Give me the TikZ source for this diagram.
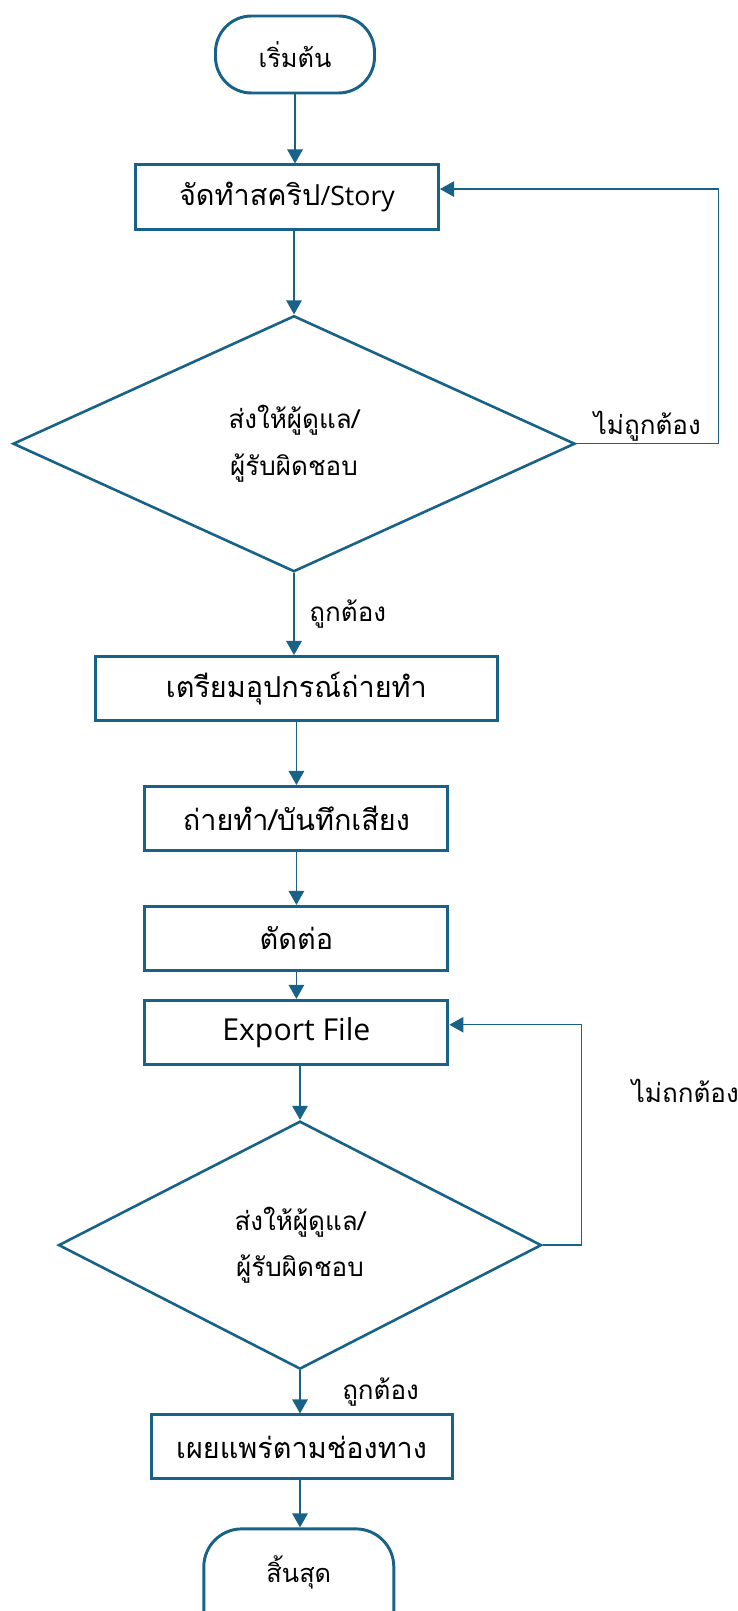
\documentclass[tikz,border=0pt]{standalone}
\usepackage{fontspec}
\newfontfamily\thaifont[Script=Thai]{Loma}
\newfontfamily\latinfont{Open Sans}
\usetikzlibrary{shapes.geometric, arrows.meta, positioning, calc}
\definecolor{flowblue}{RGB}{24,98,136}

\begin{document}
\begin{tikzpicture}[
        node distance=1.5cm,
        box/.style={rectangle, draw=flowblue, line width=2.1pt, minimum width=7.575cm, minimum height=1.6cm, align=center, font=\thaifont\fontsize{20.5}{24}\selectfont},
        term/.style={rectangle, draw=flowblue, line width=2.1pt, rounded corners=0.9cm, minimum width=3.975cm, minimum height=1.925cm, font=\thaifont\fontsize{18}{22}\selectfont},
        decision/.style={diamond, draw=flowblue, line width=1.85pt, align=center, inner sep=0pt, font=\thaifont\fontsize{18.5}{33}\selectfont},
        flow/.style={-{Triangle[width=11pt,length=10pt]}, line width=1.2pt, flowblue},
        back/.style={-{Triangle[width=11pt,length=10pt]}, line width=0.95pt, flowblue},
        note/.style={inner sep=1pt, text=black, font=\thaifont\fontsize{18.5}{22}\selectfont}
    ]
        \useasboundingbox (0,0) rectangle (18.45,-40.275);

        \node[term] (start) at (7.375,-1.3625) {เริ่มต้น};
        \node[box, minimum height=1.625cm, below=1.725cm of start, xshift=-0.2cm] (script) {จัดทำสคริป{\latinfont\fontsize{19}{22}\selectfont/Story}};
        \node[decision, minimum width=14.05cm, minimum height=6.4cm, below=2.075cm of script, xshift=0.175cm] (check1) {ส่งให้ผู้ดูแล/\\ผู้รับผิดชอบ};
        \node[box, minimum width=10.05cm, below=2.05cm of check1, xshift=0.06cm] (prep) {เตรียมอุปกรณ์ถ่ายทำ};
        \node[box, below=1.575cm of prep] (shoot) {ถ่ายทำ/บันทึกเสียง};
        \node[box, below=1.325cm of shoot] (edit) {ตัดต่อ};
        \node[box, below=0.675cm of edit] (export) {\latinfont\fontsize{21.5}{24}\selectfont Export File};
        \node[decision, minimum width=12.075cm, minimum height=6.2cm, below=1.35cm of export, xshift=0.09cm] (check2) {ส่งให้ผู้ดูแล/\\ผู้รับผิดชอบ};
        \node[box, minimum width=7.525cm, below=1.075cm of check2, xshift=0.04cm] (publish) {เผยแพร่ตามช่องทาง};
        \node[term, minimum width=4.75cm, inner sep=0.3cm, text height=1.05cm, text depth=2cm, rounded corners=0.95cm, below=1.175cm of publish, xshift=-0.07cm] (finish) {สิ้นสุด};

        \draw[flow] (start) -- (start |- script.north);
        \draw[flow] (check1.north |- script.south) -- (check1.north);
        \draw[flow] (check1.south) -- node[note, right=0.33cm] {ถูกต้อง} (check1.south |- prep.north);
        \draw[flow] (prep) -- (shoot);
        \draw[flow] (shoot) -- (edit);
        \draw[flow] (edit) -- (export);
        \draw[flow] (check2.north |- export.south) -- (check2.north);
        \draw[flow] (check2.south) -- node[note, right=1cm] {ถูกต้อง} (check2.south |- publish.north);
        \draw[flow] (check2.south |- publish.south) -- (check2.south |- finish.north);

        % loops back when not approved
        \draw[back] (check1.east) -- node[note, above] {ไม่ถูกต้อง} ++(3.55,0) |- ([yshift=0.21cm]script.east);
        \draw[back] (check2.east) -- ++(0.975,0) |- node[note, pos=0.35, right=1.2cm] {ไม่ถกต้อง} ([yshift=0.19cm]export.east);
    \end{tikzpicture}
\end{document}
